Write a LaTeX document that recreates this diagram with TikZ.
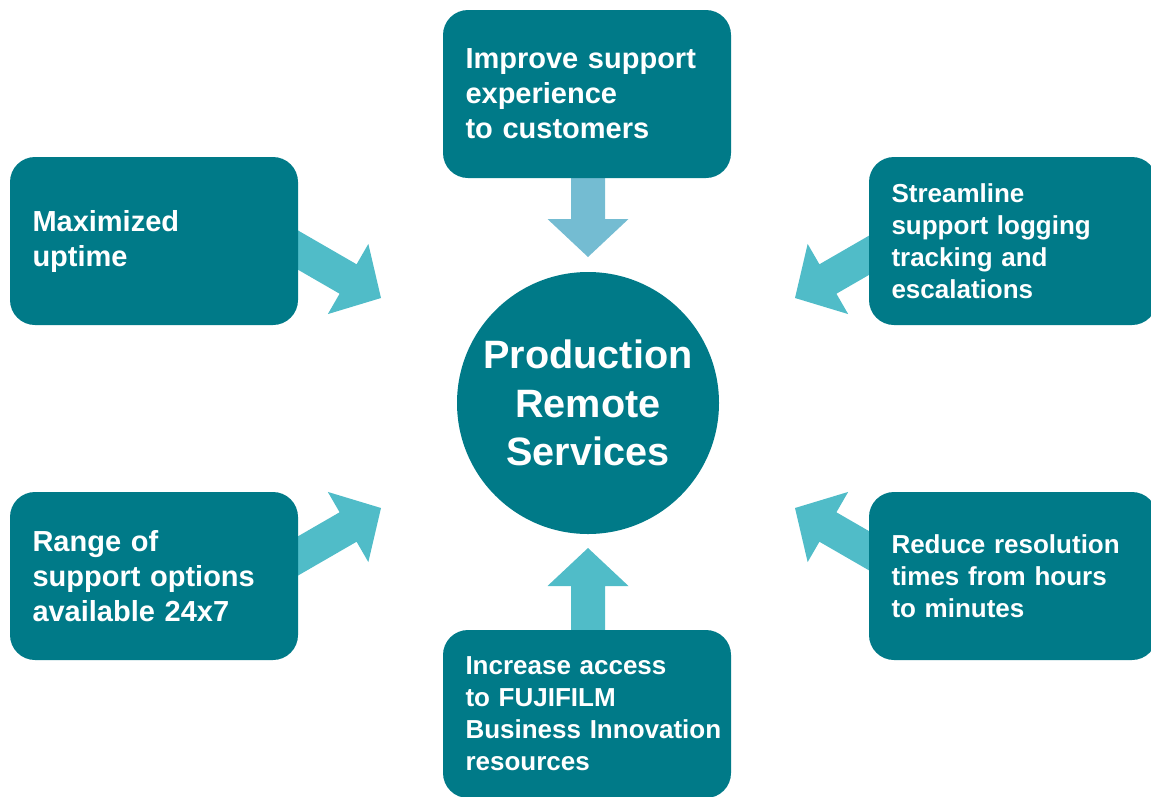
\documentclass[tikz,border=0pt]{standalone}
\usepackage{fontspec}
\setmainfont{Liberation Sans}
\usetikzlibrary{backgrounds}

\definecolor{boxteal}{RGB}{0,122,136}
\definecolor{arrowcyan}{RGB}{80,188,200}
\definecolor{arrowblue}{RGB}{116,188,210}

\begin{document}
\begin{tikzpicture}[x=1pt,y=1pt,
		goal/.style={fill=boxteal,rounded corners=25pt,minimum width=288pt,
			minimum height=168pt,text width=243pt,inner xsep=22.5pt,align=left,
			text=white,font=\fontsize{29}{35}\selectfont\bfseries},
		goalsmall/.style={goal,font=\fontsize{26}{32}\selectfont\bfseries},
		blockarrow/.style={draw=none}]
		\useasboundingbox (0,0) rectangle (1151,-796);

		% centre
		\node[circle,fill=boxteal,minimum size=262pt,inner sep=0pt,align=center,
			text=white,font=\fontsize{39.6}{48.5}\selectfont\bfseries]
			(prs) at (588,-403) {Production\\Remote\\Services};

		% the six goals
		\node[goal] (improve) at (587,-94) {Improve support\\experience\\to customers};
		\node[goal] (uptime) at (154,-241) {Maximized\\uptime};
		\node[goalsmall] (streamline) at (1013,-241) {Streamline\\support logging\\tracking and\\escalations};
		\node[goal] (range) at (154,-576) {Range of\\support options\\available 24x7};
		\node[goalsmall] (reduce) at (1013,-576) {Reduce resolution\\times from hours\\to minutes};
		\node[goalsmall] (access) at (587,-714) {Increase access\\to FUJIFILM\\\mbox{Business Innovation}\\resources};

		\coordinate (tipT) at (588,-257);
		\coordinate (tipB) at (588,-548);
		\coordinate (tipUL) at (381,-298);
		\coordinate (tipUR) at (795,-298);
		\coordinate (tipLL) at (381,-508);
		\coordinate (tipLR) at (795,-508);

		\begin{scope}[on background layer]
			\foreach \tip / \ang / \col in
			{tipT/-90/arrowblue, tipB/90/arrowcyan, tipUL/-30/arrowcyan,
			tipUR/210/arrowcyan, tipLL/30/arrowcyan, tipLR/150/arrowcyan}
			{
				\fill[blockarrow,fill=\col,shift={(\tip)},rotate=\ang]
					(0,0) -- (-38,40.5) -- (-38,17) -- (-115,17)
					-- (-115,-17) -- (-38,-17) -- (-38,-40.5) -- cycle;
			}
		\end{scope}
	\end{tikzpicture}
\end{document}
